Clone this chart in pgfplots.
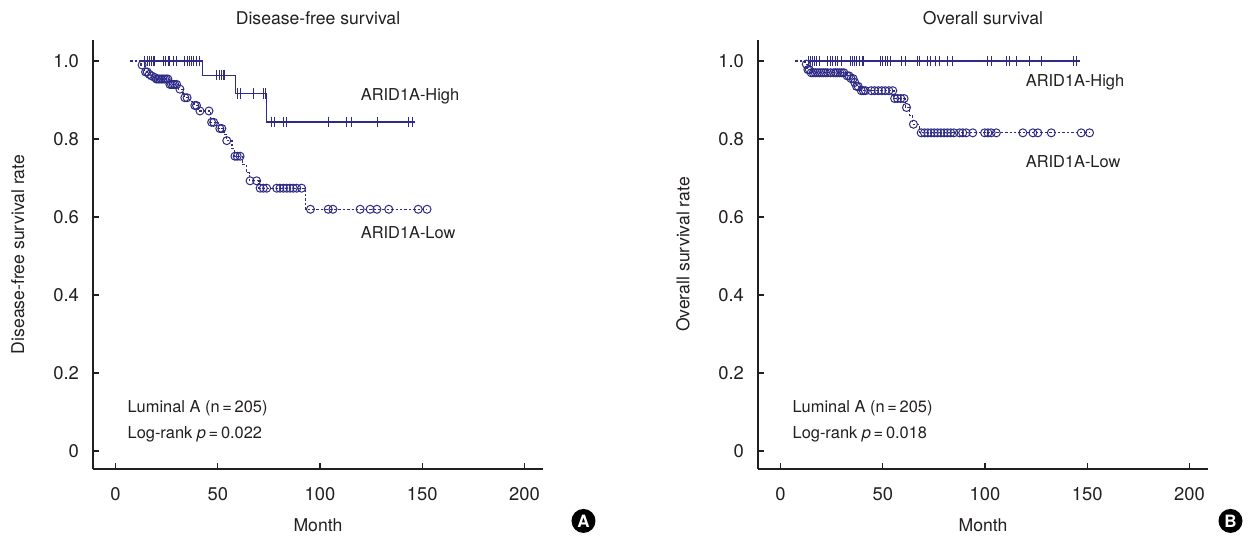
\documentclass[border=0pt]{standalone}
\usepackage{fontspec}
\setmainfont{TeX Gyre Heros}
\usepackage{pgfplots}
\pgfplotsset{compat=1.18}
\definecolor{kmnavy}{HTML}{2E2A85}
\definecolor{txtgray}{HTML}{231F20}

\newcommand{\kmfont}{\fontsize{8.2}{10}\selectfont}
\newcommand{\tickfont}{\fontsize{9.2}{11}\selectfont}
\newcommand{\labfont}{\fontsize{8.8}{10.5}\selectfont}

\tikzset{
  badge/.style={circle, fill=black, text=white, inner sep=0pt, minimum size=12pt, font=\bfseries\fontsize{8.5}{8.5}\selectfont},
}

\pgfplotsset{
  kmaxis/.style={
    scale only axis, width=225pt, height=214.5pt,
    xmin=-11, xmax=209, ymin=-0.046, ymax=1.054,
    axis x line=bottom, axis y line=left,
    axis line style={-, draw=txtgray, line width=0.6pt},
    tick align=inside, major tick length=3pt,
    tick style={draw=txtgray, line width=0.6pt},
    xtick={0,50,100,150,200}, xticklabels={0,50,100,150,200},
    ytick={0,0.2,0.4,0.6,0.8,1.0}, yticklabels={0,0.2,0.4,0.6,0.8,1.0},
    tick label style={font=\tickfont, text=txtgray},
    xticklabel shift=5.5pt, yticklabel shift=3.5pt,
    label style={font=\labfont, text=txtgray},
    title style={font=\labfont, text=txtgray, yshift=-2pt},
    xlabel style={at={(axis description cs:0.5,-0.13)}, anchor=center},
    ylabel style={at={(axis description cs:-0.167,0.5)}, anchor=center},
    clip=false,
  },
  high/.style={kmnavy, line width=0.6pt, const plot, mark=none},
  highcens/.style={only marks, mark=|, mark size=2.6pt, mark options={kmnavy, line width=0.5pt}},
  low/.style={kmnavy, line width=0.6pt, const plot, dash pattern=on 1.2pt off 1pt, mark=none},
  lowcens/.style={only marks, mark=o, mark size=2pt, mark options={kmnavy, line width=0.5pt, solid}},
}

\begin{document}
\begin{tikzpicture}
\path[use as bounding box] (-46.5pt,-34.5pt) rectangle (580.5pt,234.5pt);

% ---- (A) disease-free survival
\begin{axis}[kmaxis, title={Disease-free survival}, xlabel={Month}, ylabel={Disease-free survival rate}]
\addplot[low] coordinates {
  (7.2,1.0) (12.5,0.99) (14.2,0.972) (16.2,0.966) (17.3,0.962) (18.8,0.958)
  (19.8,0.954) (26.3,0.940) (30.8,0.928) (33,0.916) (33.8,0.906) (36,0.896)
  (38.4,0.886) (40.5,0.872) (46.6,0.843) (50.5,0.827) (53,0.812) (54.2,0.796)
  (57,0.776) (58.2,0.756) (62,0.735) (64,0.714) (65.5,0.693) (70.2,0.674)
  (92.8,0.62) (152.3,0.62)
};
\addplot[lowcens] coordinates {
  (13.0,0.99) (14.7,0.972) (15.5,0.972) (16.5,0.966) (17.6,0.962) (19.2,0.958)
  (20.0,0.954) (20.8,0.954) (21.6,0.954) (22.4,0.954) (23.2,0.954) (24.0,0.954) (24.8,0.954) (25.6,0.954)
  (26.6,0.940) (27.4,0.940) (28.2,0.940) (29.0,0.940) (29.9,0.940)
  (31.5,0.928) (33.9,0.906) (35.0,0.906) (38.8,0.886) (39.6,0.886)
  (41.3,0.872) (45.7,0.872) (47.0,0.843) (48.0,0.843) (51.0,0.827) (52.0,0.827)
  (54.4,0.796) (58.4,0.756) (59.5,0.756) (60.9,0.756)
  (65.8,0.693) (69.0,0.693)
  (70.7,0.674) (72.3,0.674) (73.9,0.674) (78.8,0.674) (80.4,0.674) (82.1,0.674)
  (83.7,0.674) (85.3,0.674) (86.9,0.674) (88.6,0.674) (91.0,0.674)
  (95.3,0.62) (104,0.62) (106.3,0.62) (119.6,0.62) (124.5,0.62) (127.8,0.62)
  (133.6,0.62) (148,0.62) (152.3,0.62)
};
\addplot[high] coordinates {
  (13,1) (42.6,0.964) (58.5,0.917) (74,0.844) (146.5,0.844)
};
\addplot[highcens] coordinates {
  (14.3,1) (15.5,1) (16.5,1) (17.4,1) (18.4,1) (19.2,1) (23.7,1) (24.6,1) (25.8,1)
  (26.6,1) (28.2,1) (29.9,1) (33.9,1) (35.1,1) (36.1,1) (37.2,1) (38.3,1) (39.7,1) (40.9,1)
  (49.5,0.964) (50.7,0.964) (51.9,0.964) (52.7,0.964) (53.5,0.964)
  (59.6,0.917) (60.9,0.917) (67.7,0.917) (72.3,0.917) (73.3,0.917)
  (76.4,0.844) (77.5,0.844) (82.1,0.844) (83.4,0.844) (104,0.844) (113.1,0.844)
  (115.6,0.844) (128.1,0.844) (143.3,0.844) (145.2,0.844)
};
\node[anchor=west, font=\kmfont, text=txtgray] at (axis cs:116.5,0.91) {ARID1A-High};
\node[anchor=west, font=\kmfont, text=txtgray] at (axis cs:116.5,0.559) {ARID1A-Low};
\node[anchor=west, font=\kmfont, text=txtgray] at (axis cs:2.5,0.11) {Luminal A (n\,=\,205)};
\node[anchor=west, font=\kmfont, text=txtgray] at (axis cs:2.5,0.044) {Log-rank \textit{p}\,=\,0.022};
\node[badge] at (rel axis cs:1.09,-0.121) {A};
\end{axis}

% ---- (B) overall survival
\begin{axis}[kmaxis, at={(332.5pt,0pt)}, title={Overall survival}, xlabel={Month}, ylabel={Overall survival rate}]
\addplot[low] coordinates {
  (7.3,1.0) (12,0.992) (13,0.978) (14.5,0.970) (32,0.962) (34.2,0.955) (36,0.945)
  (37,0.935) (39,0.924) (55.5,0.904) (61,0.881) (63.2,0.860) (64.6,0.838)
  (68,0.816) (151.1,0.816)
};
\addplot[lowcens] coordinates {
  (12.6,0.992) (13.4,0.978) (14.1,0.978)
  (15,0.970) (16,0.970) (17,0.970) (18,0.970) (19,0.970) (20,0.970) (21,0.970)
  (22,0.970) (23,0.970) (24.5,0.970) (26,0.970) (27,0.970) (28,0.970) (29,0.970)
  (30,0.970) (31,0.970)
  (32.6,0.962) (33.5,0.962) (34.5,0.955) (35.5,0.955) (36.3,0.945) (37.2,0.935) (38,0.935)
  (39.5,0.924) (40.5,0.924) (41.5,0.924) (44.3,0.924) (46,0.924) (47.8,0.924)
  (49.5,0.924) (51.2,0.924) (53,0.924) (54.9,0.924)
  (55.8,0.904) (57.2,0.904) (58.8,0.904) (60.4,0.904) (61.6,0.881) (65,0.838)
  (68.8,0.816) (70.4,0.816) (72,0.816) (73.6,0.816) (75.2,0.816) (76.8,0.816)
  (78.4,0.816) (80,0.816) (81.6,0.816) (83.2,0.816) (84.8,0.816) (87.5,0.816)
  (89.1,0.816) (90.8,0.816) (94,0.816) (99.8,0.816) (101.4,0.816) (103,0.816)
  (105.5,0.816) (118.5,0.816) (123.4,0.816) (125.8,0.816) (132.4,0.816)
  (147,0.816) (151.1,0.816)
};
\addplot[high] coordinates {(13.3,1) (146.2,1)};
\addplot[highcens] coordinates {
  (13.8,1) (14.7,1) (15.5,1) (16.6,1) (17.5,1) (19.1,1) (23.1,1) (24.3,1) (25.6,1)
  (26.9,1) (28,1) (29.7,1) (34.1,1) (35.1,1) (36.2,1) (37.3,1) (38.6,1) (39.9,1)
  (40.6,1) (48.7,1) (50,1) (51.3,1) (52.5,1) (53.6,1) (59,1) (61.1,1) (67.1,1)
  (68,1) (72,1) (73.2,1) (75.8,1) (77.8,1) (81.8,1) (84,1) (101.4,1) (103,1)
  (110.4,1) (112,1) (115.3,1) (121.8,1) (127.5,1) (143,1) (144.6,1)
};
\node[anchor=west, font=\kmfont, text=txtgray] at (axis cs:116.5,0.946) {ARID1A-High};
\node[anchor=west, font=\kmfont, text=txtgray] at (axis cs:116.5,0.741) {ARID1A-Low};
\node[anchor=west, font=\kmfont, text=txtgray] at (axis cs:2.5,0.11) {Luminal A (n\,=\,205)};
\node[anchor=west, font=\kmfont, text=txtgray] at (axis cs:2.5,0.044) {Log-rank \textit{p}\,=\,0.018};
\node[badge] at (rel axis cs:1.05,-0.121) {B};
\end{axis}
\end{tikzpicture}
\end{document}
